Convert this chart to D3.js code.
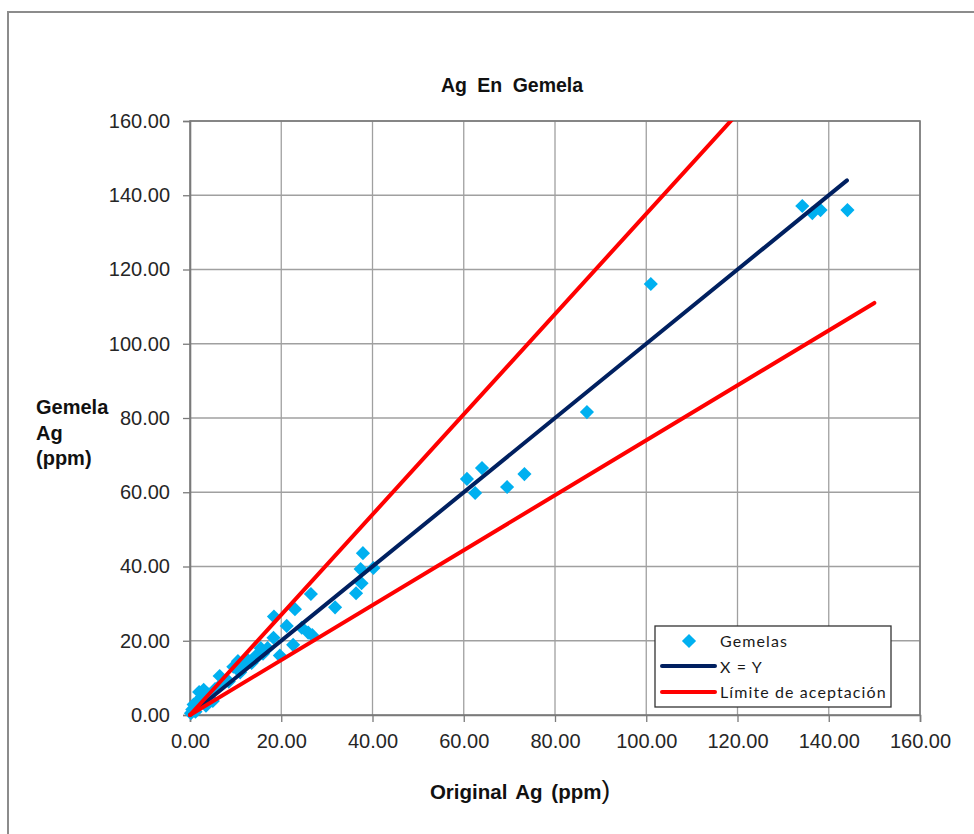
<!DOCTYPE html>
<html>
<head>
<meta charset="utf-8">
<script src="https://cdn.jsdelivr.net/npm/d3@7"></script>
<style>
  html, body { margin: 0; padding: 0; background: #fff; }
  svg { display: block; }
</style>
</head>
<body>
<svg id="chart" width="974" height="834"></svg>
<script>
// ---- Data ----
const chartTitle = "Ag En Gemela";
const xTicks = [0, 20, 40, 60, 80, 100, 120, 140, 160];
const yTicks = [0, 20, 40, 60, 80, 100, 120, 140, 160];

// Gemelas: original (x) vs twin (y), ppm
const gemelasX = [0.2, 0.5, 0.8, 1.2, 1.5, 2.0, 2.5, 3.0, 3.5, 4.0, 5.0, 5.5, 6.5, 7.0, 8.5, 9.5,
  10.5, 11.0, 12.0, 12.5, 13.5, 14.5, 14.6, 15.5, 16.0, 17.0, 18.3, 18.4, 19.7, 21.2, 22.6,
  23.0, 24.5, 25.9, 26.5, 26.8, 31.8, 36.4, 37.6, 37.4, 37.9, 40.2,
  60.7, 62.5, 64.0, 69.5, 73.3, 87.0, 101.0, 134.2, 136.4, 138.2, 144.1];
const gemelasY = [0.5, 1.5, 2.8, 0.9, 3.5, 6.2, 4.8, 6.8, 2.5, 5.5, 3.8, 7.0, 10.5, 8.5, 9.0, 13.0,
  14.5, 11.5, 13.5, 15.0, 14.0, 16.0, 15.5, 18.0, 16.5, 18.0, 20.8, 26.5, 16.0, 24.0, 18.9,
  28.5, 23.5, 22.2, 32.6, 21.5, 29.0, 32.8, 35.5, 39.3, 43.6, 39.6,
  63.6, 59.8, 66.5, 61.4, 64.9, 81.6, 116.1, 137.1, 135.2, 136.0, 136.0];

// X = Y line
const xyLineX = [0, 144];
const xyLineY = [0, 144];

// Límite de aceptación (upper and lower)
const limUpperX = [0, 150];
const limUpperY = [0, 202.5];
const limLowerX = [0, 150];
const limLowerY = [0, 111];

const legendLabels = ["Gemelas", "X = Y", "Límite de aceptación"];

// ---- Styles ----
const COL_PTS = "#00B0F0";
const COL_XY = "#002060";
const COL_LIM = "#FF0000";

const svg = d3.select("#chart");

// outer chart border
svg.append("rect")
  .attr("x", 8).attr("y", 12).attr("width", 1000).attr("height", 900)
  .attr("fill", "#fff").attr("stroke", "#8c8c8c").attr("stroke-width", 2);

const x = d3.scaleLinear().domain([0, 160]).range([190, 920]);
const y = d3.scaleLinear().domain([0, 160]).range([715, 121]);

// gridlines
const grid = svg.append("g");
grid.selectAll("line.h").data(yTicks.slice(1)).join("line")
  .attr("x1", x(0)).attr("x2", x(160))
  .attr("y1", d => y(d)).attr("y2", d => y(d))
  .attr("stroke", "#a0a0a0").attr("stroke-width", 1.3);
grid.selectAll("line.v").data(xTicks.slice(1)).join("line")
  .attr("y1", y(0)).attr("y2", y(160))
  .attr("x1", d => x(d)).attr("x2", d => x(d))
  .attr("stroke", "#a0a0a0").attr("stroke-width", 1.3);

// plot area border
svg.append("rect")
  .attr("x", x(0)).attr("y", y(160))
  .attr("width", x(160) - x(0)).attr("height", y(0) - y(160))
  .attr("fill", "none").attr("stroke", "#7a7a7a").attr("stroke-width", 1.6);

// axes
const fmt = d3.format(".2f");
const yAxis = svg.append("g").attr("transform", `translate(${x(0)},0)`)
  .call(d3.axisLeft(y).tickValues(yTicks).tickFormat(fmt).tickSize(7).tickPadding(13));
const xAxis = svg.append("g").attr("transform", `translate(0,${y(0)})`)
  .call(d3.axisBottom(x).tickValues(xTicks).tickFormat(fmt).tickSize(7).tickPadding(12));
[xAxis, yAxis].forEach(a => {
  a.select(".domain").attr("stroke", "#7a7a7a").attr("stroke-width", 1.6);
  a.selectAll(".tick line").attr("stroke", "#7a7a7a").attr("stroke-width", 1.3);
  a.selectAll(".tick text")
    .attr("font-family", "'Liberation Sans', Arial, sans-serif")
    .attr("font-size", 20).attr("fill", "#262626");
});

// clip to plot area
svg.append("clipPath").attr("id", "plotclip")
  .append("rect").attr("x", x(0) - 10).attr("y", y(160))
  .attr("width", x(160) - x(0) + 20).attr("height", y(0) - y(160) + 10);

const plot = svg.append("g").attr("clip-path", "url(#plotclip)");

// points
const pts = gemelasX.map((d, i) => ({ x: d, y: gemelasY[i] }));
const diamond = d3.symbol().type(d3.symbolSquare).size(100);
plot.selectAll("path.pt").data(pts).join("path")
  .attr("class", "pt")
  .attr("d", diamond)
  .attr("transform", d => `translate(${x(d.x)},${y(d.y)}) rotate(45)`)
  .attr("fill", COL_PTS);

const line = d3.line().x(d => x(d[0])).y(d => y(d[1]));
const mk = (xs, ys) => xs.map((v, i) => [v, ys[i]]);

plot.append("path").datum(mk(xyLineX, xyLineY)).attr("d", line)
  .attr("fill", "none").attr("stroke", COL_XY).attr("stroke-width", 4).attr("stroke-linecap", "round");
plot.append("path").datum(mk(limUpperX, limUpperY)).attr("d", line)
  .attr("fill", "none").attr("stroke", COL_LIM).attr("stroke-width", 4).attr("stroke-linecap", "round");
plot.append("path").datum(mk(limLowerX, limLowerY)).attr("d", line)
  .attr("fill", "none").attr("stroke", COL_LIM).attr("stroke-width", 4).attr("stroke-linecap", "round");

// title
svg.append("text").attr("x", 512).attr("y", 92)
  .attr("text-anchor", "middle")
  .attr("font-family", "'Liberation Sans', Arial, sans-serif")
  .attr("font-weight", "bold").attr("font-size", 19.5).attr("word-spacing", 5)
  .attr("fill", "#111").text(chartTitle);

// y axis title
const yt = svg.append("text")
  .attr("font-family", "'Liberation Sans', Arial, sans-serif")
  .attr("font-weight", "bold").attr("font-size", 20).attr("fill", "#111");
["Gemela", "Ag", "(ppm)"].forEach((t, i) => {
  yt.append("tspan").attr("x", 36).attr("y", 414 + i * 25.5).text(t);
});

// x axis title
const xt = svg.append("text").attr("x", 520).attr("y", 799)
  .attr("text-anchor", "middle")
  .attr("font-family", "'Liberation Sans', Arial, sans-serif")
  .attr("fill", "#111");
xt.append("tspan").attr("font-weight", "bold").attr("font-size", 20.5).attr("word-spacing", 3).text("Original Ag (ppm");
xt.append("tspan").attr("font-size", 26).text(")");

// legend
const lg = svg.append("g");
lg.append("rect").attr("x", 655).attr("y", 626).attr("width", 236).attr("height", 81)
  .attr("fill", "#fff").attr("stroke", "#333").attr("stroke-width", 1.3);
lg.append("path").attr("d", diamond)
  .attr("transform", "translate(689,641) rotate(45)").attr("fill", COL_PTS);
lg.append("line").attr("x1", 662).attr("x2", 715).attr("y1", 666).attr("y2", 666)
  .attr("stroke", COL_XY).attr("stroke-width", 4).attr("stroke-linecap", "round");
lg.append("line").attr("x1", 662).attr("x2", 715).attr("y1", 692).attr("y2", 692)
  .attr("stroke", COL_LIM).attr("stroke-width", 4).attr("stroke-linecap", "round");
legendLabels.forEach((t, i) => {
  lg.append("text").attr("x", 720).attr("y", 647 + i * 25.5)
    .attr("font-family", "Lato, 'Open Sans', sans-serif")
    .attr("font-size", 16).attr("letter-spacing", 1.1).attr("fill", "#1a1a1a").text(t);
});
</script>
</body>
</html>
